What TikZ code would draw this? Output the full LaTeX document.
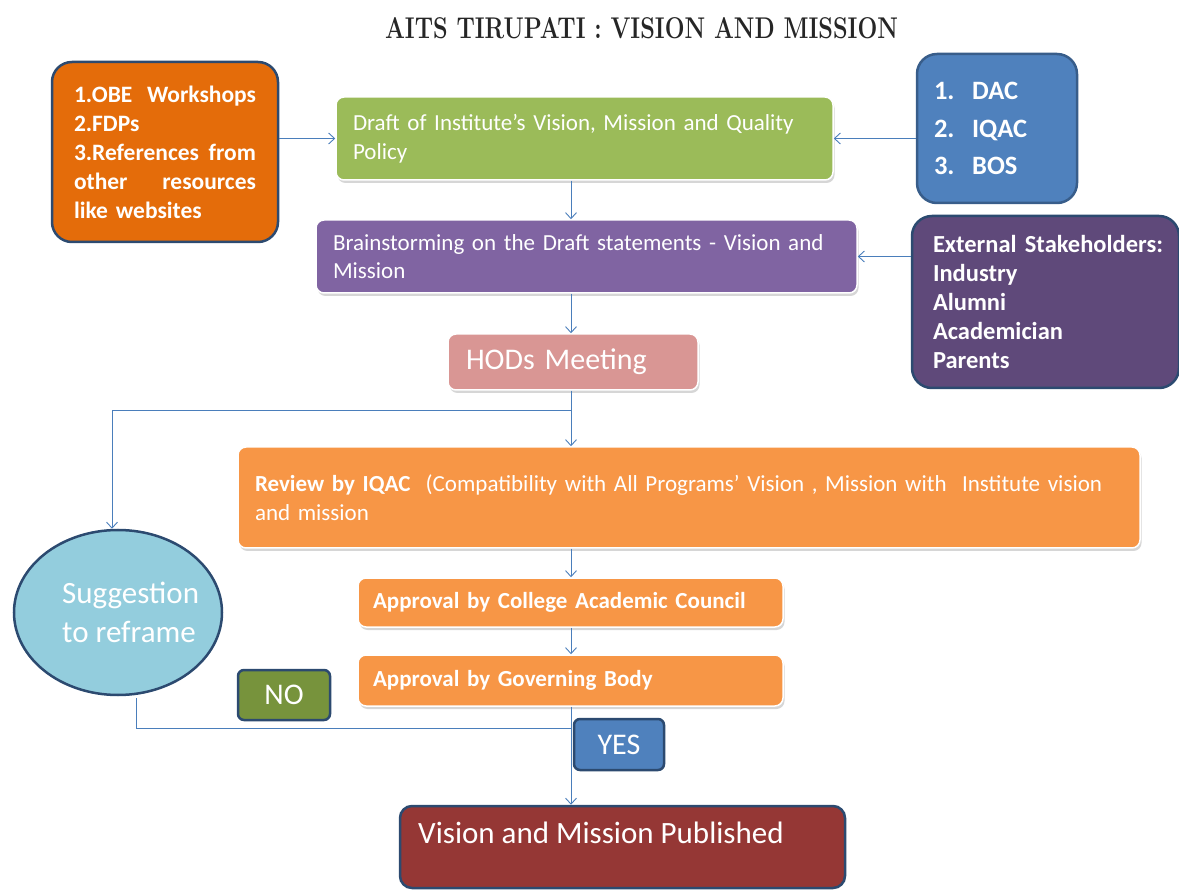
\documentclass[tikz,border=0pt]{standalone}
\usepackage{fontspec}
\newfontfamily\bodyfont{Carlito}
\usetikzlibrary{arrows.meta,shadows,shapes.geometric}
\definecolor{linec}{HTML}{4A7EBB}
\definecolor{navy}{HTML}{2C4A70}
\definecolor{obeor}{HTML}{E46C0A}
\definecolor{draftg}{HTML}{9BBB59}
\definecolor{bluebx}{HTML}{4F81BD}
\definecolor{bluebd}{HTML}{385D8A}
\definecolor{purp}{HTML}{8064A2}
\definecolor{dpurp}{HTML}{5F497A}
\definecolor{hodc}{HTML}{D99694}
\definecolor{revor}{HTML}{F79646}
\definecolor{suggc}{HTML}{93CDDD}
\definecolor{noc}{HTML}{77933C}
\definecolor{pubc}{HTML}{953735}
\tikzset{
  conn/.style={draw=linec, line width=1pt, -{Straight Barb[length=6pt,width=11pt,line width=0.9pt]}},
  link/.style={draw=linec, line width=1pt},
  softbox/.style={rectangle, rounded corners=8pt, draw=white, line width=1.5pt,
    drop shadow={shadow xshift=1.5pt, shadow yshift=-3pt, opacity=0.35, fill=black!45},
    text=white, font=\bodyfont\fontsize{23}{28.5}\selectfont, inner ysep=0pt, align=left},
  darkbox/.style={rectangle, rounded corners=20pt, draw=navy, line width=2.5pt,
    text=white, font=\bodyfont\bfseries\fontsize{23.5}{29}\selectfont, inner ysep=0pt, align=left},
}
\begin{document}
\begin{tikzpicture}[x=1pt,y=-1pt]
\useasboundingbox (0,0) rectangle (1179,890);
\fill[white] (0,0) rectangle (1179,890);

\node[anchor=south, inner sep=0pt, font=\rmfamily\bfseries\fontsize{28}{30}\selectfont, text=black!85] (title) at (641.5,39)
  {\resizebox{513pt}{21pt}{AITS TIRUPATI : VISION AND MISSION}};

% side input boxes
\node[darkbox, fill=obeor, minimum width=226, minimum height=180, text width=182, inner xsep=22] (obe) at (165,152)
  {\makebox[182pt][s]{1.OBE\hfil Workshops}\\2.FDPs\\\makebox[182pt][s]{3.References\hfil from}\\\makebox[182pt][s]{other\hfil resources}\\like websites};
\node[darkbox, fill=bluebx, draw=bluebd, minimum width=160, minimum height=149, text width=126, inner xsep=17,
  font=\bodyfont\bfseries\fontsize{26.5}{37.5}\selectfont] (dac) at (997,128.5)
  {1.\ \ DAC\\2.\ \ IQAC\\3.\ \ BOS};
\node[darkbox, fill=dpurp, draw=navy, minimum width=267, minimum height=172, text width=225, inner xsep=21,
  font=\bodyfont\bfseries\fontsize{24.5}{29}\selectfont] (ext) at (1045.5,302)
  {\makebox[225pt][l]{External Stakeholders:}\\Industry\\Alumni\\Academician\\Parents};

% main flow
\node[softbox, fill=draftg, minimum width=497, minimum height=83, text width=463, inner xsep=17] (draft) at (584.5,138.5)
  {Draft of Institute’s Vision, Mission and Quality\\Policy};
\node[softbox, fill=purp, minimum width=541, minimum height=73, text width=507, inner xsep=17] (brain) at (586.5,256.5)
  {Brainstorming on the Draft statements - Vision and\\Mission};
\node[softbox, fill=hodc, minimum width=250, minimum height=56, text width=214, inner xsep=18,
  font=\bodyfont\fontsize{30}{32}\selectfont] (hods) at (573,362) {HODs Meeting};
\node[softbox, fill=revor, minimum width=902, minimum height=101, text width=868, inner xsep=17] (review) at (689,497.5)
  {\textbf{Review by IQAC}\ \ (Compatibility with All Programs’ Vision , Mission with\ \ Institute vision\\and mission};
\node[softbox, fill=revor, minimum width=425, minimum height=49, text width=395, inner xsep=15,
  font=\bodyfont\bfseries\fontsize{23}{28}\selectfont] (cac) at (570.5,602.5)
  {Approval by College Academic Council};
\node[softbox, fill=revor, minimum width=425, minimum height=51, text width=395, inner xsep=15,
  font=\bodyfont\bfseries\fontsize{23}{28}\selectfont] (gb) at (570.5,680.5)
  {Approval by Governing Body};

\node[ellipse, fill=suggc, draw=navy, line width=2.5pt, minimum width=208, minimum height=165, inner sep=0pt] (sugg) at (118,612.5) {};
\node[anchor=west, inner sep=0pt, text=white, align=left, font=\bodyfont\fontsize{31}{39}\selectfont] (suggtext) at (62,612.5)
  {Suggestion\\to reframe};

\node[darkbox, rounded corners=6pt, fill=noc, draw=navy, minimum width=92, minimum height=50, inner xsep=0pt,
  font=\bodyfont\fontsize{30}{32}\selectfont] (no) at (284,695) {NO};
\node[darkbox, rounded corners=6pt, fill=bluebx, draw=navy, minimum width=90, minimum height=51, inner xsep=0pt,
  font=\bodyfont\fontsize{30}{32}\selectfont] (yes) at (619,744.5) {YES};

\node[darkbox, rounded corners=12pt, fill=pubc, draw=navy, minimum width=445, minimum height=82] (pub) at (622.5,847) {};
\node[anchor=west, text=white, inner sep=0pt, font=\bodyfont\fontsize{31}{33}\selectfont] (pubtext) at (418,833)
  {Vision and Mission Published};

% connectors
\coordinate (spine) at (571,0);
\coordinate (br) at (571,411);
\coordinate (lp) at (571,728);
\draw[conn] (obe.east |- draft.west) -- (draft.west);
\draw[conn] (dac.west |- draft.east) -- (draft.east);
\draw[conn] (draft.south -| spine) -- (brain.north -| spine);
\draw[conn] (ext.west |- brain.east) -- (brain.east);
\draw[conn] (brain.south -| spine) -- (hods.north -| spine);
\draw[conn] (hods.south -| spine) -- (review.north -| spine);
\draw[conn] (br) -| ([xshift=-6pt]sugg.north);
\draw[conn] (review.south -| spine) -- (cac.north -| spine);
\draw[conn] (cac.south -| spine) -- (gb.north -| spine);
\draw[conn] (gb.south -| spine) -- (pub.north -| spine);
\draw[link] (lp) -| ([xshift=18pt,yshift=-2pt]sugg.south);
\end{tikzpicture}
\end{document}
